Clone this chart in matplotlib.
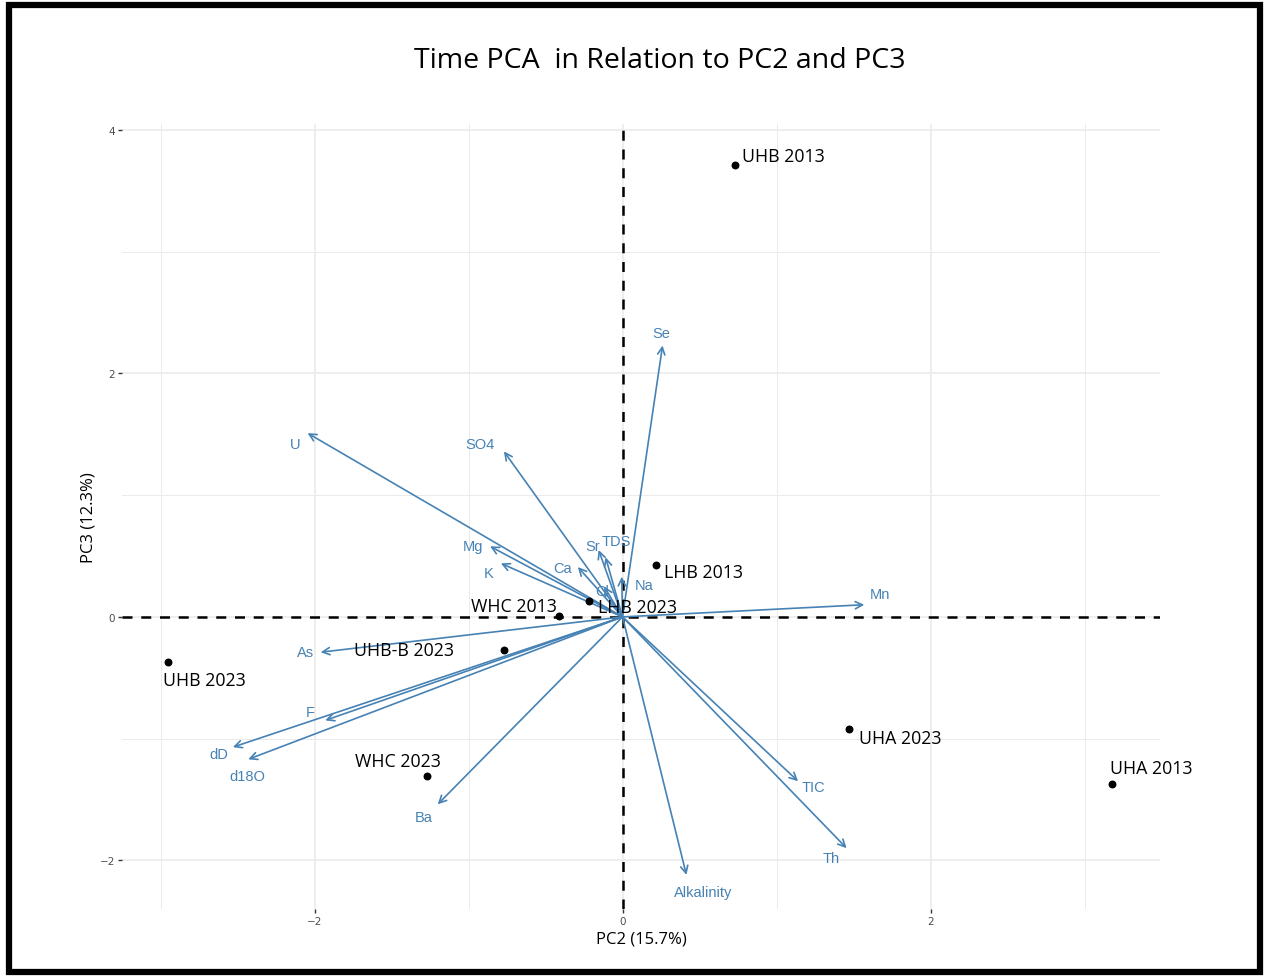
import matplotlib
matplotlib.use("Agg")
import matplotlib.pyplot as plt
from matplotlib.patches import Rectangle

# ---- data ----
sample_names = ["UHB 2013", "LHB 2013", "LHB 2023", "WHC 2013", "UHB-B 2023",
                "UHB 2023", "WHC 2023", "UHA 2023", "UHA 2013"]
sample_pc2 = [0.73, 0.22, -0.22, -0.415, -0.77, -2.95, -1.27, 1.47, 3.18]
sample_pc3 = [3.71, 0.43, 0.13, 0.01, -0.27, -0.37, -1.31, -0.92, -1.37]

var_names = ["Se", "U", "SO4", "Mg", "K", "Ca", "Sr", "TDS", "Na", "Cl", "Mn",
             "As", "F", "dD", "d18O", "Ba", "TIC", "Th", "Alkalinity"]
var_pc2 = [0.26, -2.045, -0.77, -0.86, -0.79, -0.29, -0.155, -0.11, -0.005, -0.12,
           1.57, -1.96, -1.93, -2.53, -2.43, -1.20, 1.14, 1.455, 0.415]
var_pc3 = [2.23, 1.51, 1.36, 0.58, 0.44, 0.41, 0.55, 0.49, 0.33, 0.25,
           0.10, -0.29, -0.85, -1.07, -1.17, -1.54, -1.35, -1.90, -2.12]

x_ticks = [-2, 0, 2]
y_ticks = [-2, 0, 2, 4]
title = "Time PCA  in Relation to PC2 and PC3"
x_label = "PC2 (15.7%)"
y_label = "PC3 (12.3%)"

# ---- label offsets (points) : styling only ----
var_offsets = {"Se": (-1, 9), "U": (-9, -8), "SO4": (-17, 5), "Mg": (-12, 0),
               "K": (-9, -7), "Ca": (-11, -1), "Sr": (-4, 3), "TDS": (8, 12),
               "Na": (16, -6), "Cl": (-1, -3), "Mn": (11, 8), "As": (-11, 0),
               "F": (-11, 6), "dD": (-10, -5), "d18O": (-1, -12), "Ba": (-10, -9),
               "TIC": (11, -4), "Th": (-11, -7), "Alkalinity": (12, -12)}
sample_offsets = {"UHB 2013": (35, 6.5), "LHB 2013": (34, -5), "LHB 2023": (35, -4.5),
                  "WHC 2013": (-32, 7), "UHB-B 2023": (-72, 0), "UHB 2023": (26, -13),
                  "WHC 2023": (-21, 11), "UHA 2023": (37, -6.5), "UHA 2013": (28, 11)}

arrow_col = "#4682B4"

fig = plt.figure(figsize=(12.65, 9.79), dpi=100)
ax = fig.add_axes([122 / 1265, 1 - 910 / 979, (1160 - 122) / 1265, (910 - 125) / 979])

ax.set_xlim(-3.25, 3.49)
ax.set_ylim(-2.4, 4.05)

# grid
for v in [-3, -1, 1, 3]:
    ax.axvline(v, color="#EBEBEB", lw=0.7, zorder=0)
for v in [-1, 1, 3]:
    ax.axhline(v, color="#EBEBEB", lw=0.7, zorder=0)
for v in x_ticks:
    ax.axvline(v, color="#EBEBEB", lw=1.2, zorder=0)
for v in y_ticks:
    ax.axhline(v, color="#EBEBEB", lw=1.2, zorder=0)

ax.axhline(0, color="black", lw=1.8, ls=(0, (4, 3.5)), zorder=1)
ax.axvline(0, color="black", lw=1.8, ls=(0, (4, 3.5)), zorder=1)

for s in ax.spines.values():
    s.set_visible(False)

ax.set_xticks(x_ticks)
ax.set_yticks(y_ticks)
ax.set_xticklabels([str(t).replace("-", "\u2212") for t in x_ticks])
ax.set_yticklabels([str(t).replace("-", "\u2212") for t in y_ticks])
ax.tick_params(axis="both", length=3, width=1.0, color="#333333", labelsize=7.5,
               labelcolor="#4D4D4D", pad=2)

# points
ax.scatter(sample_pc2, sample_pc3, s=22, color="black", zorder=4)
for n, x, y in zip(sample_names, sample_pc2, sample_pc3):
    ax.annotate(n, (x, y), xytext=sample_offsets[n], textcoords="offset points",
                ha="center", va="center", fontsize=12.8, family="Open Sans",
                color="black", zorder=5)

# arrows
for n, x, y in zip(var_names, var_pc2, var_pc3):
    ax.annotate("", xy=(x, y), xytext=(0, 0),
                arrowprops=dict(arrowstyle="->", color=arrow_col, lw=1.2,
                                mutation_scale=13, shrinkA=0, shrinkB=0),
                zorder=3)
    ax.annotate(n, (x, y), xytext=var_offsets[n], textcoords="offset points",
                ha="center", va="center", fontsize=10.5, family="Liberation Sans",
                color=arrow_col, zorder=3)

ax.set_xlabel(x_label, fontsize=12, family="Open Sans", labelpad=3)
ax.set_ylabel(y_label, fontsize=12, family="Open Sans", labelpad=2)

fig.text(660 / 1265, 1 - 61 / 979, title, ha="center", va="center",
         fontsize=20.5, family="Open Sans")

# outer black frame
fig.patches.append(Rectangle((9 / 1265, 6 / 979), (1260 - 9) / 1265, (973 - 6) / 979,
                             transform=fig.transFigure, fill=False,
                             edgecolor="black", lw=4.5))

fig.savefig("out.png", dpi=100)
